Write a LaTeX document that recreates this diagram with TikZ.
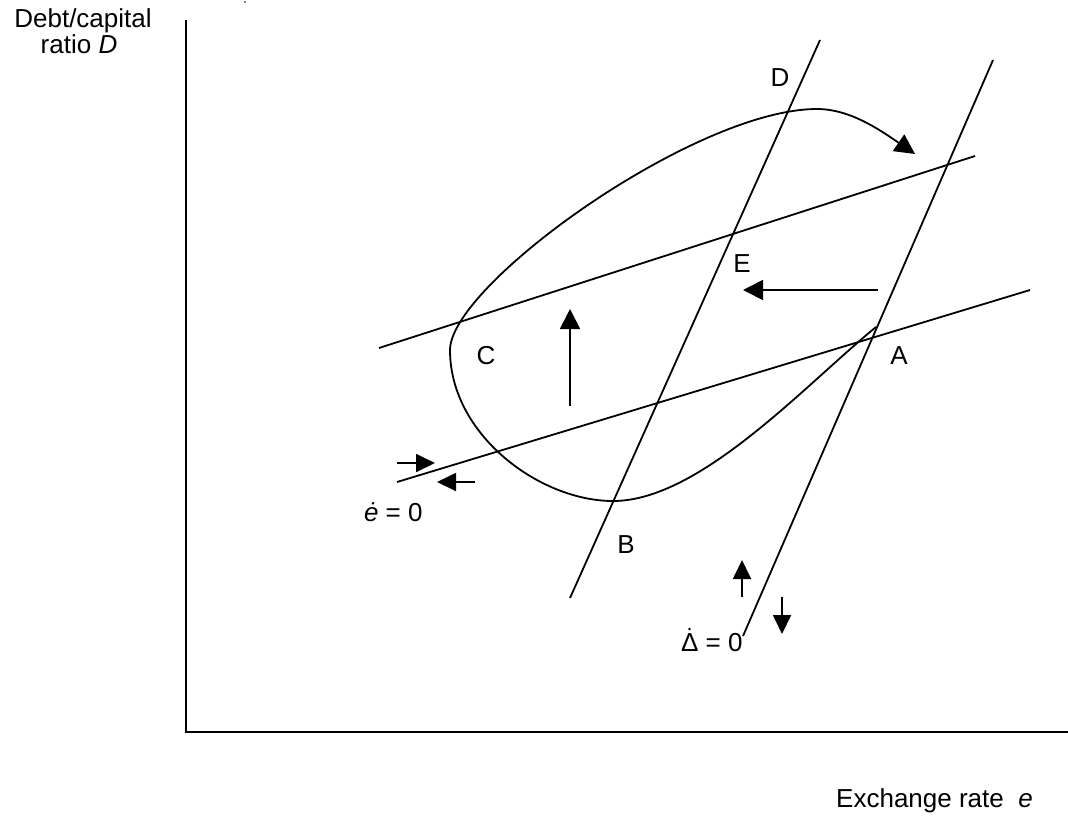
\documentclass[tikz,border=0pt]{standalone}
\usepackage{fontspec}
\setmainfont{Liberation Sans}
\usetikzlibrary{arrows.meta}
\tikzset{
  lbl/.style={font=\fontsize{13}{13}\selectfont, inner sep=0pt},
  axis/.style={line width=1.2pt},
  curve/.style={line width=0.9pt},
  flow/.style={line width=0.9pt, -{Triangle[length=10pt,width=10pt]}},
  smallflow/.style={line width=0.9pt, -{Triangle[length=9.5pt,width=9pt]}}
}
\begin{document}
\begin{tikzpicture}[x=0.5pt,y=-0.5pt]
\useasboundingbox (0,0) rectangle (1068,819);
% axes
\coordinate (top) at (186,20);
\coordinate (origin) at (186,732);
\coordinate (right) at (1068,732);
\draw[axis] (top) -- (origin) -- (right);
\fill (245,2) circle (0.9);
% axis labels
\node[lbl, anchor=base] (ylab1) at (83,27) {Debt/capital};
\node[lbl, anchor=base] (ylab2) at (79,53) {ratio \textit{D}};
\node[lbl, anchor=base] (xlab) at (934.5,807) {Exchange rate\ \ \textit{e}};
% lines
\coordinate (e1) at (397,482);  \coordinate (e2) at (1030,290);
\coordinate (u1) at (379,348);  \coordinate (u2) at (975,156);
\coordinate (b1) at (570,598);  \coordinate (b2) at (820,40);
\coordinate (a1) at (743,636);  \coordinate (a2) at (993,60);
\draw[curve] (e1) -- (e2);
\draw[curve] (u1) -- (u2);
\draw[curve] (b1) -- (b2);
\draw[curve] (a1) -- (a2);
% loop
\coordinate (pA) at (876,327);
\coordinate (pB) at (613,501);
\coordinate (pC) at (450,350);
\coordinate (pT) at (817,109);
\coordinate (pEnd) at (915,154);
\draw[curve, -{Triangle[length=10pt,width=10pt]}]
  (pA) .. controls (805,385) and (700,501) .. (pB)
       .. controls (540,501) and (450,435) .. (pC)
       .. controls (450,285) and (695,109) .. (pT)
       .. controls (850,109) and (880,130) .. (pEnd);
% flow arrows
\coordinate (v1) at (570,406); \coordinate (v2) at (570,309);
\draw[flow] (v1) -- (v2);
\coordinate (h1) at (878,290); \coordinate (h2) at (743,290);
\draw[flow] (h1) -- (h2);
\coordinate (r1) at (397,463); \coordinate (r2) at (435,463);
\draw[smallflow] (r1) -- (r2);
\coordinate (l1) at (475,482); \coordinate (l2) at (437,482);
\draw[smallflow] (l1) -- (l2);
\coordinate (su1) at (742,597); \coordinate (su2) at (742,560);
\draw[smallflow] (su1) -- (su2);
\coordinate (sd1) at (782,597); \coordinate (sd2) at (782,634);
\draw[smallflow] (sd1) -- (sd2);
% point labels
\node[lbl] (D) at (780,78) {D};
\node[lbl] (E) at (742,264) {E};
\node[lbl] (C) at (486,356) {C};
\node[lbl] (A) at (899,356) {A};
\node[lbl] (B) at (626,545) {B};
% isocline labels
\node[lbl, anchor=base east] (edot) at (423,521) {\textit{ė} = 0};
\node[lbl, anchor=base east] (ddot) at (743,651) {Δ = 0};
\fill (689.5,629) circle (1.3);
\end{tikzpicture}
\end{document}
